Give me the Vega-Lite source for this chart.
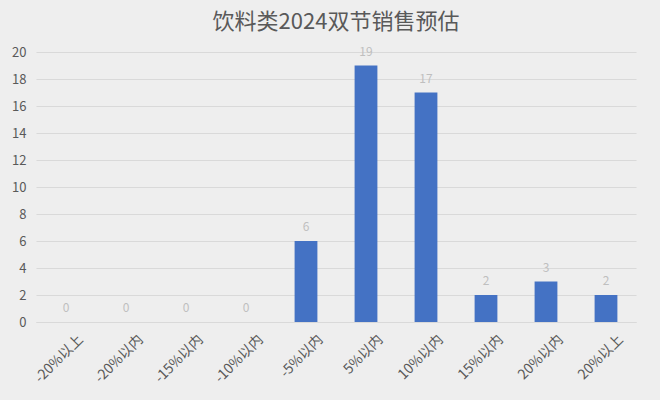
{
  "$schema": "https://vega.github.io/schema/vega-lite/v6.json",
  "autosize": "none",
  "width": 600,
  "height": 270,
  "padding": {"left": 36, "top": 52, "right": 24, "bottom": 78},
  "background": "#eeeeee",
  "title": {
    "text": "饮料类2024双节销售预估",
    "fontSize": 22,
    "font": "Noto Sans CJK SC",
    "fontWeight": "normal",
    "color": "#595959",
    "offset": 12
  },
  "config": {
    "view": {"stroke": null},
    "font": "Noto Sans CJK SC"
  },
  "data": {
    "values": [
      {"range": "-20%以上", "count": 0},
      {"range": "-20%以内", "count": 0},
      {"range": "-15%以内", "count": 0},
      {"range": "-10%以内", "count": 0},
      {"range": "-5%以内", "count": 6},
      {"range": "5%以内", "count": 19},
      {"range": "10%以内", "count": 17},
      {"range": "15%以内", "count": 2},
      {"range": "20%以内", "count": 3},
      {"range": "20%以上", "count": 2}
    ]
  },
  "encoding": {
    "x": {
      "field": "range",
      "type": "nominal",
      "sort": null,
      "scale": {"paddingInner": 0.62, "paddingOuter": 0.31},
      "axis": {
        "title": null,
        "labelAngle": -45,
        "labelFontSize": 14,
        "labelColor": "#595959",
        "domainColor": "#d9d9d9",
        "ticks": false,
        "labelPadding": 10,
        "labelOffset": 10
      }
    },
    "y": {
      "field": "count",
      "type": "quantitative",
      "scale": {"domain": [0, 20]},
      "axis": {
        "title": null,
        "values": [0, 2, 4, 6, 8, 10, 12, 14, 16, 18, 20],
        "labelFontSize": 13,
        "labelColor": "#595959",
        "domain": false,
        "ticks": false,
        "labelPadding": 10,
        "gridColor": "#d9d9d9"
      }
    }
  },
  "layer": [
    {"mark": {"type": "bar", "color": "#4472c4"}},
    {
      "mark": {"type": "text", "dy": -14, "color": "#bfbfbf", "fontSize": 12},
      "encoding": {"text": {"field": "count", "type": "quantitative"}}
    }
  ]
}
